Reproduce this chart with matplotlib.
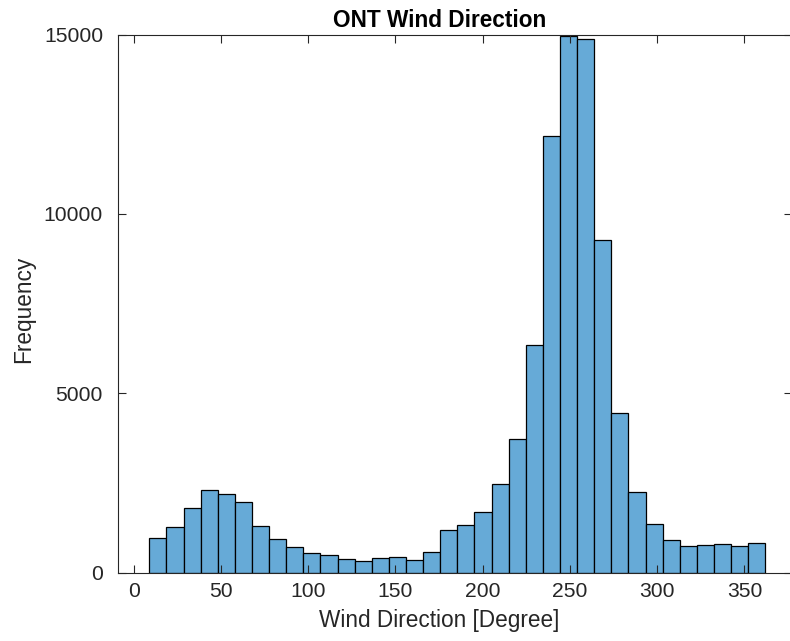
import numpy as np
import matplotlib
matplotlib.use("Agg")
import matplotlib.pyplot as plt

# Histogram bin edges (degrees) and counts
bin_start = 9.0
bin_end = 362.0
n_bins = 36
counts = [959, 1265, 1812, 2297, 2194, 1980, 1310, 931, 725, 541,
          502, 395, 326, 401, 429, 345, 577, 1190, 1330, 1701,
          2473, 3719, 6340, 12183, 14962, 14887, 9284, 4440, 2258, 1358,
          903, 736, 772, 809, 753, 819]
xticks = [0, 50, 100, 150, 200, 250, 300, 350]
yticks = [0, 5000, 10000, 15000]

edges = np.linspace(bin_start, bin_end, n_bins + 1)

plt.rcParams['font.family'] = ['Liberation Sans', 'DejaVu Sans']
axcol = '#262626'

W, H = 790, 641
fig = plt.figure(figsize=(W / 100, H / 100), dpi=100)
ax = fig.add_axes([118.3 / W, 68.3 / H, 1.003 - 118.3 / W, (572.7 - 34.5) / H])

ax.bar(edges[:-1], counts, width=np.diff(edges), align='edge',
       color=(0.4, 0.668, 0.845), edgecolor='black', linewidth=0.9)

ax.set_xlim(-8.8, 377.5)
ax.set_ylim(0, 15000)
ax.set_xticks(xticks)
ax.set_yticks(yticks)
ax.tick_params(direction='in', length=6, width=0.8, colors=axcol,
               labelsize=15.2, top=True, right=True)
ax.tick_params(axis='x', pad=7)
ax.tick_params(axis='y', pad=11)
for s in ax.spines.values():
    s.set_color(axcol)
    s.set_linewidth(0.8)

fig.text(439.5 / W, 1 - 626.7 / H, 'Wind Direction [Degree]', fontsize=16.3,
         color=axcol, ha='center', va='baseline')
fig.text(24 / W, 1 - 309 / H, 'Frequency', fontsize=16.3, color=axcol,
         rotation=90, ha='center', va='center')
fig.text(439.5 / W, 1 - 26.7 / H, 'ONT Wind Direction', fontsize=16.3,
         fontweight='bold', color='black', ha='center', va='baseline')

fig.savefig('out.png', dpi=100)
